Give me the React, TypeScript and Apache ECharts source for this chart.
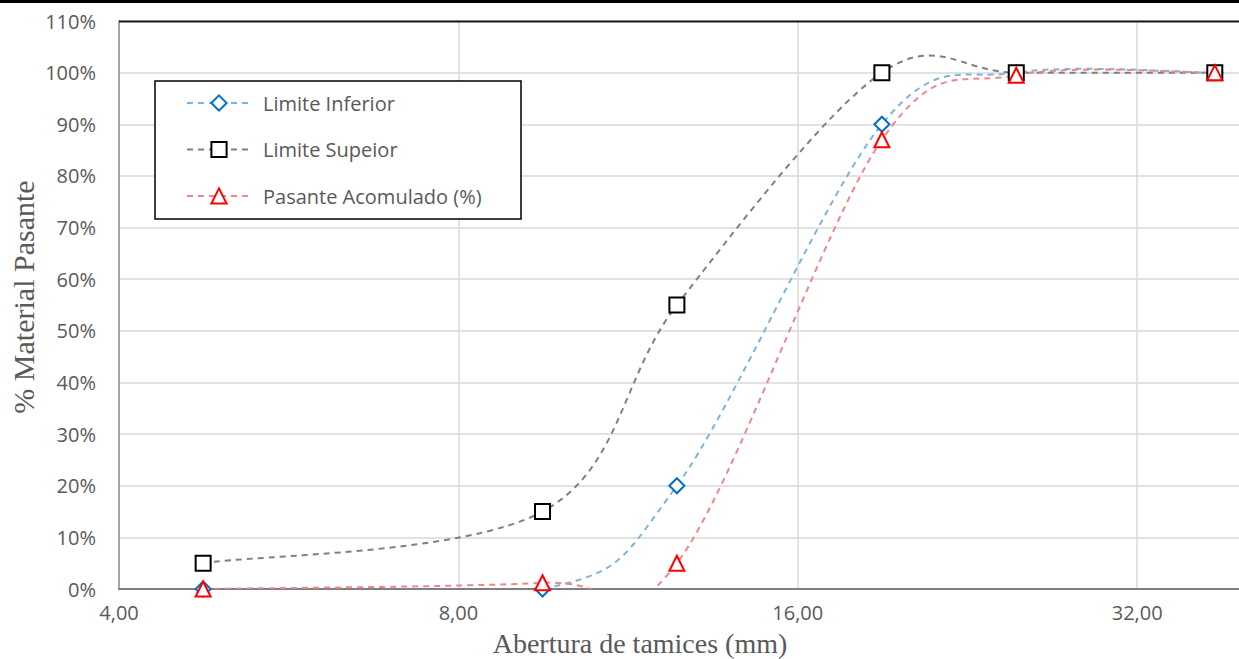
import React, { useEffect, useRef } from "react";
import * as echarts from "echarts";

// Sieve openings (mm) and percentages passing
const sieveSizes = [4.75, 9.5, 12.5, 19, 25, 37.5];
const limiteInferior = [0, 0, 20, 90, 100, 100];
const limiteSuperior = [5, 15, 55, 100, 100, 100];
const pasanteAcumulado = [0, 1.2, 5, 87, 99.5, 100];

const seriesNames = ["Limite Inferior", "Limite Supeior", "Pasante Acomulado (%)"];
const xTicks = [4, 8, 16, 32];

const xTitle = "Abertura de tamices (mm)";
const yTitle = "% Material Pasante";

const SANS = "'Open Sans', 'Noto Sans', sans-serif";
const SERIF = "'Liberation Serif', 'DejaVu Serif', serif";
const TXT = "#595959";
const DASH = [6, 5];

const lineColors = ["#7EB3DD", "#808080", "#F0858A"];
const markColors = ["#0070C0", "#000000", "#FF0000"];
const symbols = ["diamond", "rect", "triangle"];
const allValues = [limiteInferior, limiteSuperior, pasanteAcumulado];

function pairs(ys: number[]) {
  return sieveSizes.map((x, i) => [x, ys[i]]);
}

// Excel-like smoothed curve (Catmull-Rom style Bezier, tension 1/6), in pixel space
function curveSeries(ys: number[], color: string) {
  return {
    type: "custom",
    data: pairs(ys),
    encode: { x: 0, y: 1 },
    clip: true,
    silent: true,
    z: 2,
    renderItem: (params: any, api: any) => {
      if (params.dataIndex !== 0) return undefined;
      const p = sieveSizes.map((x, i) => api.coord([x, ys[i]]));
      const n = p.length;
      let d = `M${p[0][0]},${p[0][1]}`;
      for (let i = 0; i < n - 1; i++) {
        const p0 = p[Math.max(i - 1, 0)];
        const p1 = p[i];
        const p2 = p[i + 1];
        const p3 = p[Math.min(i + 2, n - 1)];
        const c1x = p1[0] + (p2[0] - p0[0]) / 6;
        const c1y = p1[1] + (p2[1] - p0[1]) / 6;
        const c2x = p2[0] - (p3[0] - p1[0]) / 6;
        const c2y = p2[1] - (p3[1] - p1[1]) / 6;
        d += ` C${c1x},${c1y} ${c2x},${c2y} ${p2[0]},${p2[1]}`;
      }
      return {
        type: "path",
        shape: { pathData: d },
        style: { fill: "none", stroke: color, lineWidth: 2, lineDash: DASH },
      };
    },
  };
}

export default function App() {
  const ref = useRef<HTMLDivElement>(null);
  useEffect(() => {
    if (!ref.current) return;
    const chart = echarts.init(ref.current, undefined, { renderer: "svg" });
    const markers = seriesNames.map((name, k) => ({
      name,
      type: "line",
      data: pairs(allValues[k]),
      symbol: symbols[k],
      symbolSize: 15,
      showAllSymbol: true,
      clip: true,
      lineStyle: { color: lineColors[k], width: 2, type: DASH, opacity: 0 },
      itemStyle: { color: "#ffffff", borderColor: markColors[k], borderWidth: 2 },
      emphasis: { disabled: true },
      z: 3,
    }));
    const curves = allValues.map((ys, k) => curveSeries(ys, lineColors[k]));
    chart.setOption({
      animation: false,
      grid: { left: 119, right: 0, top: 21, bottom: 70, containLabel: false },
      xAxis: {
        type: "log",
        logBase: 2,
        min: 4,
        max: 39.4,
        axisLine: { show: true, lineStyle: { color: "#7F7F7F", width: 2 } },
        axisTick: { show: false },
        splitLine: {
          show: true,
          showMinLine: false,
          showMaxLine: false,
          lineStyle: { color: "#D9D9D9", width: 1.5 },
        },
        axisLabel: {
          margin: 13,
          color: TXT,
          fontFamily: SANS,
          fontSize: 20,
          showMaxLabel: false,
          formatter: (v: number) => {
            const t = xTicks.find((k) => Math.abs(k - v) < 1e-6 * k);
            return t === undefined ? "" : t.toFixed(2).replace(".", ",");
          },
        },
      },
      yAxis: {
        type: "value",
        min: 0,
        max: 110,
        interval: 10,
        axisLine: { show: true, lineStyle: { color: "#868686", width: 1.5 } },
        axisTick: { show: false },
        splitLine: { show: true, lineStyle: { color: "#D9D9D9", width: 1.5 } },
        axisLabel: {
          margin: 23,
          color: TXT,
          fontFamily: SANS,
          fontSize: 20,
          formatter: "{value}%",
        },
      },
      legend: {
        show: true,
        orient: "vertical",
        left: 186,
        top: 92,
        padding: 0,
        itemWidth: 64,
        itemHeight: 19,
        itemGap: 24.5,
        z: 20,
        data: seriesNames.map((name, k) => ({
          name,
          lineStyle: { color: lineColors[k], width: 2, type: DASH, opacity: 1 },
        })),
        textStyle: {
          color: TXT,
          fontFamily: SANS,
          fontSize: 20,
          lineHeight: 22,
          padding: [0, 0, 0, 7],
        },
      },
      graphic: [
        {
          type: "line",
          z: 10,
          shape: { x1: 0, y1: 1.5, x2: 1239, y2: 1.5 },
          style: { stroke: "#000000", lineWidth: 3 },
        },
        {
          type: "line",
          z: 10,
          shape: { x1: 119, y1: 21.5, x2: 1239, y2: 21.5 },
          style: { stroke: "#1a1a1a", lineWidth: 2 },
        },
        {
          type: "rect",
          z: 10,
          shape: { x: 155, y: 81, width: 366, height: 138 },
          style: { fill: "#ffffff", stroke: "#000000", lineWidth: 1.5 },
        },
        {
          type: "text",
          z: 10,
          x: 640,
          y: 643,
          style: {
            text: xTitle,
            fill: TXT,
            font: `28px ${SERIF}`,
            align: "center",
            verticalAlign: "middle",
          },
        },
        {
          type: "text",
          z: 10,
          x: 23,
          y: 297,
          rotation: Math.PI / 2,
          style: {
            text: yTitle,
            fill: TXT,
            font: `30px ${SERIF}`,
            align: "center",
            verticalAlign: "middle",
          },
        },
      ],
      series: [...curves, ...markers],
    });
    return () => chart.dispose();
  }, []);
  return (
    <div
      ref={ref}
      style={{ position: "absolute", left: 0, top: 0, width: 1239, height: 659, background: "#fff" }}
    />
  );
}
